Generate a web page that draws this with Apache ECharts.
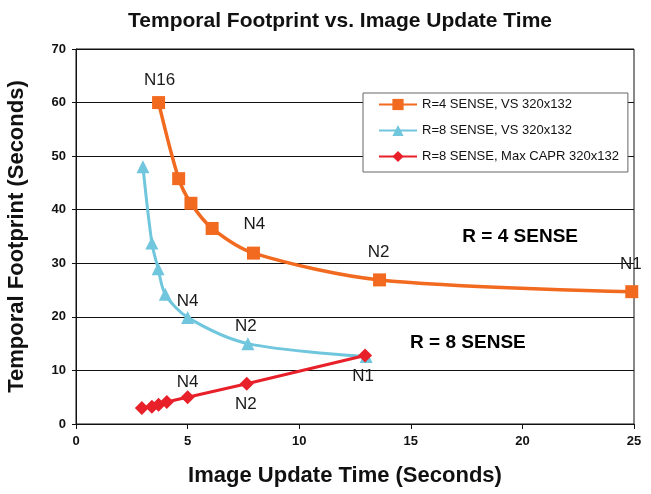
<!DOCTYPE html>
<html><head><meta charset="utf-8">
<script src="https://cdn.jsdelivr.net/npm/echarts@6/dist/echarts.min.js"></script>
<style>html,body{margin:0;padding:0;background:#fff}#c{width:651px;height:494px}</style>
</head><body><div id="c"></div>
<script>
const seriesNames = ['R=4 SENSE, VS 320x132', 'R=8 SENSE, VS 320x132', 'R=8 SENSE, Max CAPR 320x132'];
const r4X = [3.7, 4.6, 5.15, 6.1, 7.95, 13.6, 24.9];
const r4Y = [60, 45.8, 41.2, 36.5, 31.9, 26.9, 24.7];
const r4Labels = ['N16', '', '', '', 'N4', 'N2', 'N1'];
const r8X = [3.0, 3.4, 3.68, 4.0, 5.0, 7.7, 13.0];
const r8Y = [48, 33.8, 29, 24.2, 19.9, 15, 12.6];
const r8Labels = ['', '', '', '', 'N4', 'N2', ''];
const caprX = [2.95, 3.4, 3.7, 4.07, 5.0, 7.65, 12.95];
const caprY = [3.0, 3.2, 3.6, 4.1, 5.0, 7.5, 12.8];
const caprLabels = ['', '', '', '', 'N4', 'N2', 'N1'];
const noteTexts = ['R = 4 SENSE', 'R = 8 SENSE'];
const noteX = [19.9, 17.56];
const noteY = [34.9, 15.1];
const xTicks = {min: 0, max: 25, interval: 5};
const yTicks = {min: 0, max: 70, interval: 10};

const FONT = 'Liberation Sans, Arial, sans-serif';
const labelOffsets = {
  r4: {N16: [1, -22], N4: [1, -29], N2: [-1, -28], N1: [-1, -27]},
  r8: {N4: [0, -16], N2: [-2, -17]},
  capr: {N4: [0, -15], N2: [-1, 20], N1: [-2, 21]}
};
function build(xs, ys, labels, key) {
  return xs.map((x, i) => {
    const item = {value: [x, ys[i]]};
    if (labels[i]) {
      item.label = {show: true, formatter: labels[i], position: 'inside',
        offset: labelOffsets[key][labels[i]] || [0, 0],
        fontSize: 17, color: '#1a1a1a', fontFamily: FONT};
    }
    return item;
  });
}
const chart = echarts.init(document.getElementById('c'), null, {renderer: 'canvas'});
chart.setOption({
  animation: false,
  backgroundColor: '#fff',
  title: {text: 'Temporal Footprint vs. Image Update Time', left: 335, top: 6, textAlign: 'center',
    textStyle: {fontSize: 21, fontWeight: 'bold', color: '#111', fontFamily: FONT}},
  grid: {left: 76, right: 17, top: 49, bottom: 70, show: true, borderColor: '#111', borderWidth: 1,
    containLabel: false, outerBoundsMode: 'none'},
  legend: {
    data: seriesNames, orient: 'vertical', left: 363, top: 93,
    backgroundColor: '#fff', borderColor: '#666', borderWidth: 1, padding: [5, 9, 9, 15],
    itemWidth: 38, itemHeight: 14, itemGap: 13,
    textStyle: {fontSize: 13, color: '#111', fontFamily: FONT}
  },
  xAxis: {type: 'value', min: xTicks.min, max: xTicks.max, interval: xTicks.interval,
    name: 'Image Update Time (Seconds)', nameLocation: 'middle', nameGap: 41,
    nameTextStyle: {fontSize: 22, fontWeight: 'bold', color: '#111', fontFamily: FONT, padding: [0, 20, 0, 0]},
    axisLine: {lineStyle: {color: '#111', width: 1}},
    axisTick: {show: true, inside: false, length: 5, lineStyle: {color: '#111'}},
    axisLabel: {fontSize: 13, fontWeight: 'bold', color: '#111', margin: 11, fontFamily: FONT},
    splitLine: {show: false}},
  yAxis: {type: 'value', min: yTicks.min, max: yTicks.max, interval: yTicks.interval,
    name: 'Temporal Footprint (Seconds)', nameLocation: 'middle', nameGap: 48,
    nameTextStyle: {fontSize: 22, fontWeight: 'bold', color: '#111', fontFamily: FONT},
    axisLine: {show: true, lineStyle: {color: '#111', width: 1}},
    axisTick: {show: true, length: 4, lineStyle: {color: '#111'}},
    axisLabel: {fontSize: 13, fontWeight: 'bold', color: '#111', margin: 10, fontFamily: FONT},
    splitLine: {show: true, lineStyle: {color: '#111', width: 1}}},
  series: [
    {name: seriesNames[0], type: 'line', smooth: 0.3, data: build(r4X, r4Y, r4Labels, 'r4'),
      symbol: 'rect', symbolSize: 13, lineStyle: {width: 3.5, color: '#f26a1f'},
      itemStyle: {color: '#f26a1f'}, z: 3},
    {name: seriesNames[1], type: 'line', smooth: 0.3, data: build(r8X, r8Y, r8Labels, 'r8'),
      symbol: 'triangle', symbolSize: 13, lineStyle: {width: 3, color: '#70c6dd'},
      itemStyle: {color: '#70c6dd'}, z: 4},
    {name: seriesNames[2], type: 'line', smooth: 0.2, data: build(caprX, caprY, caprLabels, 'capr'),
      symbol: 'diamond', symbolSize: 14, lineStyle: {width: 3, color: '#e8202a'},
      itemStyle: {color: '#e8202a'}, z: 5},
    {name: 'notes', type: 'scatter', silent: true, symbol: 'circle', symbolSize: 0,
      itemStyle: {color: '#000', opacity: 1},
      label: {show: true, position: 'inside', fontSize: 19, fontWeight: 'bold', color: '#000', opacity: 1,
        fontFamily: FONT, formatter: p => noteTexts[p.dataIndex]},
      data: noteX.map((x, i) => [x, noteY[i]]),
      z: 6}
  ]
});
</script></body></html>
